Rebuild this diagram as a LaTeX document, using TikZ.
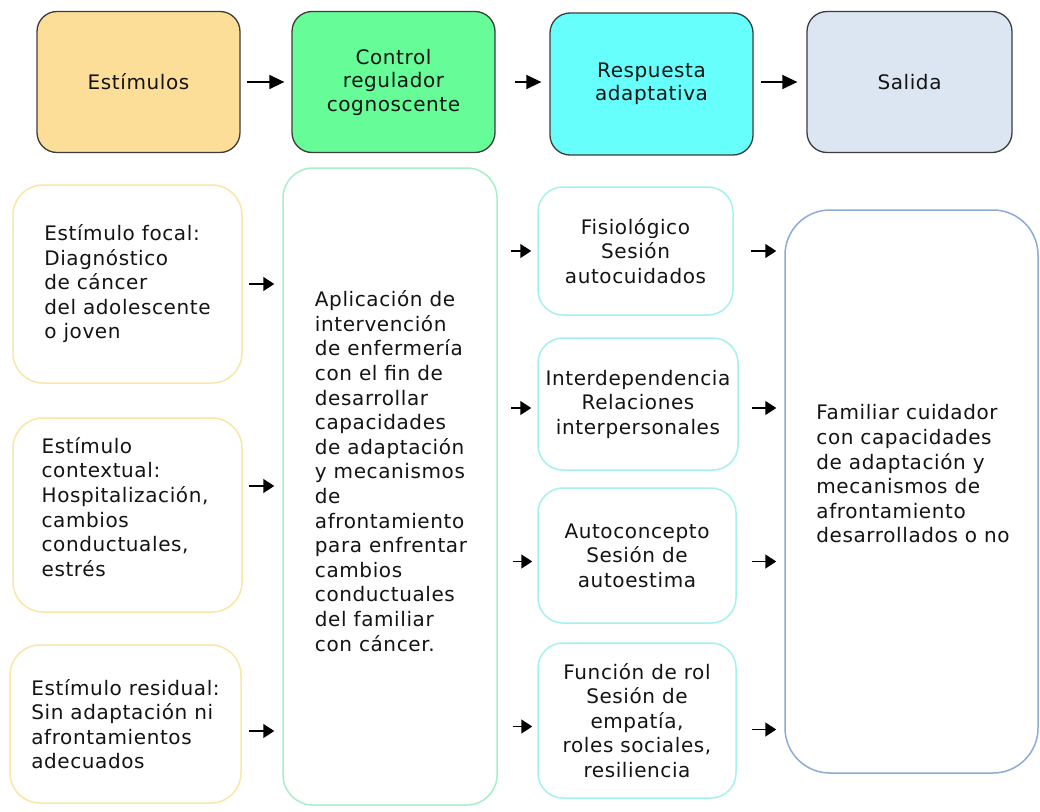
\documentclass[tikz,border=0pt]{standalone}
\usepackage{fontspec}
\setmainfont{DejaVu Sans}[LetterSpace=3]
\usetikzlibrary{arrows.meta}
\definecolor{txt}{RGB}{20,20,20}
\definecolor{topline}{RGB}{60,60,60}
\definecolor{estfill}{RGB}{252,222,152}
\definecolor{ctlfill}{RGB}{102,252,152}
\definecolor{rspfill}{RGB}{102,255,252}
\definecolor{salfill}{RGB}{220,230,242}
\definecolor{stimline}{RGB}{250,230,165}
\definecolor{ctlline}{RGB}{165,240,200}
\definecolor{rspline}{RGB}{165,240,240}
\definecolor{salline}{RGB}{140,172,212}
\begin{document}
\begin{tikzpicture}[x=1pt,y=-1pt,
  topbox/.style={draw=topline, line width=1.3pt, rounded corners=20pt, minimum width=203pt, minimum height=141pt, align=center, text=txt, inner sep=0pt, font=\fontsize{20}{23.5}\selectfont},
  lbox/.style={line width=1.5pt, inner sep=0pt, text=txt, font=\fontsize{20}{24.5}\selectfont},
  stimbox/.style={lbox, draw=stimline, rounded corners=30pt, minimum width=229pt, align=left},
  rspbox/.style={lbox, draw=rspline, rounded corners=25pt, align=center},
  lbl/.style={text=txt, inner sep=0pt, font=\fontsize{20}{24.6}\selectfont, align=left},
  arr/.style={-{Triangle[length=11pt,width=14pt]}, line width=1.5pt, black},
  toparr/.style={-{Triangle[length=15pt,width=14pt]}, line width=1.5pt, black}
]
\useasboundingbox[fill=white] (0,0) rectangle (1040,811);

% top row
\node[topbox, fill=estfill] (est) at (138.5,82) {Estímulos};
\node[topbox, fill=ctlfill] (ctl) at (393.5,82) {Control\\regulador\\cognoscente};
\node[topbox, fill=rspfill, minimum height=142pt] (rsp) at (651.5,84) {Respuesta\\adaptativa};
\node[topbox, fill=salfill, minimum width=205pt] (sal) at (909.5,82) {Salida};

\draw[toparr, shorten <=6pt, shorten >=7pt] (est.east) -- (ctl.west);
\draw[toparr, shorten <=19pt, shorten >=8pt] (ctl.east) -- (ctl.east -| rsp.west);
\draw[toparr, shorten <=7pt, shorten >=9pt] (rsp.east |- sal.west) -- (sal.west);

% stimuli
\node[stimbox, minimum height=198pt] (s1) at (127.5,284) {Estímulo focal:\\Diagnóstico\\de cáncer\\del adolescente\\o joven};
\node[stimbox, minimum height=194pt] (s2) at (127.5,515) {};
\node[lbl] (s2text) at (125,507) {Estímulo\\contextual:\\Hospitalización,\\cambios\\conductuales,\\estrés};
\node[stimbox, minimum height=158pt, minimum width=231pt] (s3) at (125.5,724) {Estímulo residual:\\Sin adaptación ni\\afrontamientos\\adecuados};

% control box
\node[lbox, draw=ctlline, rounded corners=30pt, minimum width=214pt, minimum height=637pt] (cbig) at (390,486.5) {};
\node[lbl] (ctext) at (391,471) {Aplicación de\\intervención\\de enfermería\\con el fin de\\desarrollar\\capacidades\\de adaptación\\y mecanismos\\de\\afrontamiento\\para enfrentar\\cambios\\conductuales\\del familiar\\con cáncer.};

\draw[arr] ([xshift=6pt]s1.east) -- ([xshift=-8pt]cbig.west |- s1.east);
\draw[arr] ([xshift=6pt,yshift=29pt]s2.east) -- ([xshift=-8pt,yshift=29pt]cbig.west |- s2.east);
\draw[arr] ([xshift=7pt,yshift=-7pt]s3.east) -- ([xshift=-8pt,yshift=-7pt]cbig.west |- s3.east);

% response boxes
\node[rspbox, minimum width=195pt, minimum height=128pt] (rA) at (635.5,251) {Fisiológico\\Sesión\\autocuidados};
\node[rspbox, minimum width=200pt, minimum height=132pt] (rB) at (638,404) {Interdependencia\\Relaciones\\interpersonales};
\node[rspbox, minimum width=198pt, minimum height=135pt] (rC) at (637,555.5) {Autoconcepto\\Sesión de\\autoestima};
\node[rspbox, minimum width=198pt, minimum height=155pt] (rD) at (637,720.5) {Función de rol\\Sesión de\\empatía,\\roles sociales,\\resiliencia};

% output box
\node[lbox, draw=salline, rounded corners=45pt, minimum width=253pt, minimum height=563pt] (sbig) at (911.5,491.5) {};
\node[lbl] (stext) at (913,474) {Familiar cuidador\\con capacidades\\de adaptación y\\mecanismos de\\afrontamiento\\desarrollados o no};

\draw[arr] (cbig.east |- rA.west) ++(13,0) -- ([xshift=-6pt]rA.west);
\draw[arr] (cbig.east |- rB.west) ++(13,4) -- ([xshift=-6pt,yshift=-4pt]rB.west);
\draw[arr] (cbig.east |- rC.west) ++(15,6) -- ([xshift=-5pt,yshift=-6pt]rC.west);
\draw[arr] (cbig.east |- rD.west) ++(15,6) -- ([xshift=-5pt,yshift=-6pt]rD.west);

\draw[arr] ([xshift=17pt]rA.east) -- ([xshift=-8pt]sbig.west |- rA.east);
\draw[arr] ([xshift=13pt,yshift=-4pt]rB.east) -- ([xshift=-8pt,yshift=-4pt]sbig.west |- rB.east);
\draw[arr] ([xshift=15pt,yshift=-6pt]rC.east) -- ([xshift=-8pt,yshift=-6pt]sbig.west |- rC.east);
\draw[arr] ([xshift=15pt,yshift=-9pt]rD.east) -- ([xshift=-8pt,yshift=-9pt]sbig.west |- rD.east);
\end{tikzpicture}
\end{document}
